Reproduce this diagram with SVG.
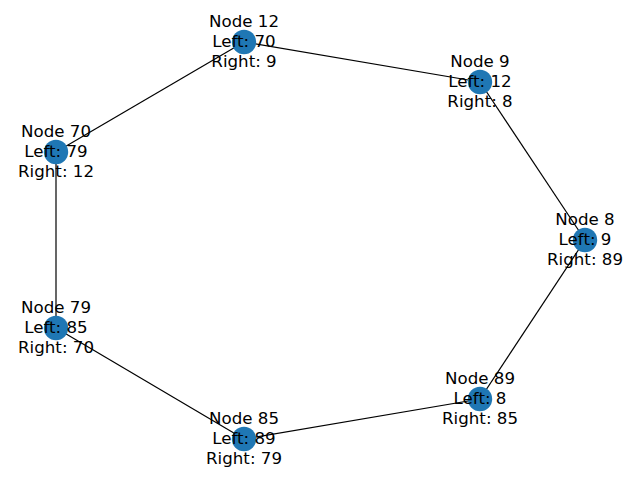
<svg xmlns="http://www.w3.org/2000/svg" width="640" height="480" viewBox="0 0 640 480">
  <style>
    .edge { stroke: #000; stroke-width: 1.2; fill: none; }
    .node circle { fill: #1f77b4; }
    .node text { font-family: "DejaVu Sans", sans-serif; font-size: 16.67px; fill: #000; text-anchor: middle; }
  </style>
  <rect width="640" height="480" fill="#fff"/>
  <g id="edges">
    <line class="edge" x1="244" y1="42" x2="480" y2="82"/>
    <line class="edge" x1="480" y1="82" x2="585" y2="240"/>
    <line class="edge" x1="585" y1="240" x2="480" y2="399"/>
    <line class="edge" x1="480" y1="399" x2="244" y2="439"/>
    <line class="edge" x1="244" y1="439" x2="56" y2="328"/>
    <line class="edge" x1="56" y1="328" x2="56" y2="152"/>
    <line class="edge" x1="56" y1="152" x2="244" y2="42"/>
  </g>
  <g id="node12" class="node" transform="translate(244,42)">
    <circle r="12.2"/>
    <text y="-15.5">Node 12</text><text y="4.5">Left: 70</text><text y="24.5">Right: 9</text>
  </g>
  <g id="node9" class="node" transform="translate(480,82)">
    <circle r="12.2"/>
    <text y="-15.5">Node 9</text><text y="4.5">Left: 12</text><text y="24.5">Right: 8</text>
  </g>
  <g id="node8" class="node" transform="translate(585,240)">
    <circle r="12.2"/>
    <text y="-15.5">Node 8</text><text y="4.5">Left: 9</text><text y="24.5">Right: 89</text>
  </g>
  <g id="node89" class="node" transform="translate(480,399)">
    <circle r="12.2"/>
    <text y="-15.5">Node 89</text><text y="4.5">Left: 8</text><text y="24.5">Right: 85</text>
  </g>
  <g id="node85" class="node" transform="translate(244,439)">
    <circle r="12.2"/>
    <text y="-15.5">Node 85</text><text y="4.5">Left: 89</text><text y="24.5">Right: 79</text>
  </g>
  <g id="node79" class="node" transform="translate(56,328)">
    <circle r="12.2"/>
    <text y="-15.5">Node 79</text><text y="4.5">Left: 85</text><text y="24.5">Right: 70</text>
  </g>
  <g id="node70" class="node" transform="translate(56,152)">
    <circle r="12.2"/>
    <text y="-15.5">Node 70</text><text y="4.5">Left: 79</text><text y="24.5">Right: 12</text>
  </g>
</svg>
